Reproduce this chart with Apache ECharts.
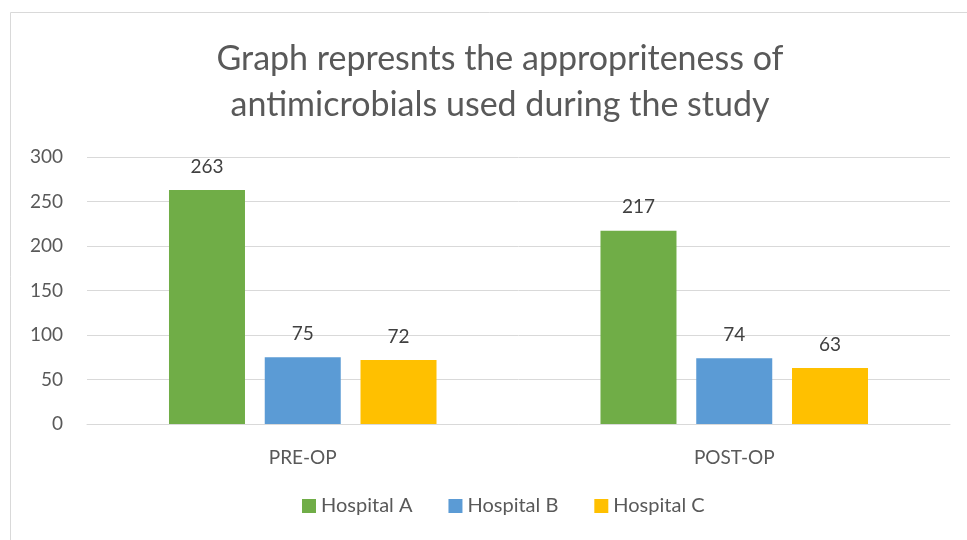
<!DOCTYPE html>
<html>
<head>
<meta charset="utf-8">
<script src="https://cdn.jsdelivr.net/npm/echarts@6/dist/echarts.min.js"></script>
<style>
  html, body { margin: 0; padding: 0; background: #fff; }
  #chart { width: 967px; height: 540px; }
</style>
</head>
<body>
<div id="chart"></div>
<script>
const categories = ['PRE-OP', 'POST-OP']
const hospitalA = [263, 217]
const hospitalB = [75, 74]
const hospitalC = [72, 63]
const seriesNames = ['Hospital A', 'Hospital B', 'Hospital C']
const colors = ['#70ad47', '#5b9bd5', '#ffc000']

const font = 'Lato, "Open Sans", sans-serif'

function makeBar(name, data, color) {
  return {
    name: name,
    type: 'bar',
    data: data,
    barGap: '26%',
    barCategoryGap: '38%',
    itemStyle: { color: color },
    label: {
      show: true,
      position: 'top',
      distance: 14,
      color: '#404040',
      fontSize: 19,
      fontFamily: font
    }
  }
}

const chart = echarts.init(document.getElementById('chart'), null, { renderer: 'canvas' })
chart.setOption({
  animation: false,
  graphic: [
    {
      type: 'rect',
      shape: { x: 10.5, y: 12.5, width: 1000, height: 600 },
      style: { fill: 'none', stroke: '#d9d9d9', lineWidth: 1 },
      silent: true
    }
  ],
  title: {
    text: 'Graph represnts the appropriteness of\nantimicrobials used during the study',
    left: 495,
    textAlign: 'center',
    top: 31,
    textStyle: {
      color: '#595959',
      fontSize: 34,
      fontWeight: 'normal',
      fontFamily: font,
      lineHeight: 46
    }
  },
  legend: {
    data: seriesNames,
    bottom: 19,
    left: 297,
    itemWidth: 14,
    itemHeight: 14,
    itemGap: 36,
    icon: 'rect',
    textStyle: { color: '#595959', fontSize: 20, fontFamily: font }
  },
  grid: { left: 87, right: 17, top: 157, bottom: 116, containLabel: false },
  xAxis: {
    type: 'category',
    data: categories,
    axisLine: { lineStyle: { color: '#d9d9d9' } },
    axisTick: { show: false },
    axisLabel: { color: '#595959', fontSize: 19, fontFamily: font, margin: 24 }
  },
  yAxis: {
    type: 'value',
    min: 0,
    max: 300,
    interval: 50,
    axisLine: { show: false },
    axisTick: { show: false },
    splitLine: { lineStyle: { color: '#d9d9d9' } },
    axisLabel: { color: '#595959', fontSize: 19, fontFamily: font, margin: 24 }
  },
  series: [
    makeBar(seriesNames[0], hospitalA, colors[0]),
    makeBar(seriesNames[1], hospitalB, colors[1]),
    makeBar(seriesNames[2], hospitalC, colors[2])
  ]
})
</script>
</body>
</html>
